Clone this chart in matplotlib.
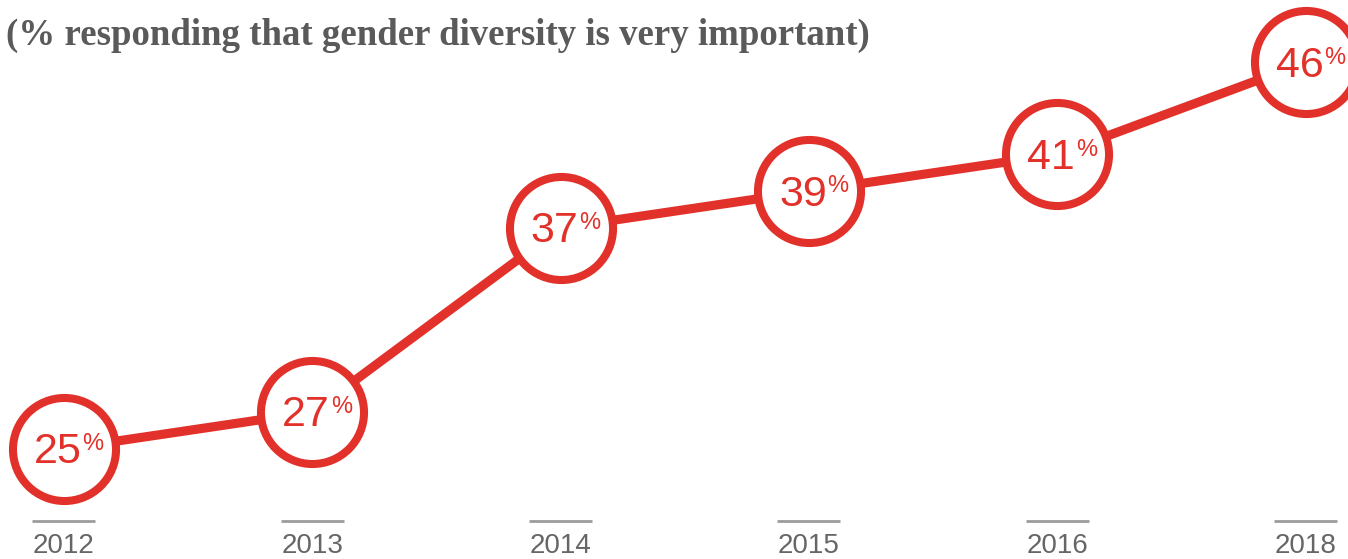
import matplotlib
matplotlib.use("Agg")
import matplotlib.pyplot as plt
import matplotlib.transforms as mtransforms

years = ["2012", "2013", "2014", "2015", "2016", "2018"]
values = [25, 27, 37, 39, 41, 46]
title = "(% responding that gender diversity is very important)"

RED = "#e2312a"
W, H, DPI = 1348, 559, 100

fig = plt.figure(figsize=(W / DPI, H / DPI), dpi=DPI)
ax = fig.add_axes([0, 0, 1, 1])
ax.set_axis_off()

x = list(range(len(years)))
ax.set_xlim(-0.2564, 5.170)
ax.set_ylim(19.02, 49.39)

ax.plot(x, values, color=RED, lw=6.6, solid_capstyle="butt", zorder=2)
ax.plot(x, values, linestyle="none", marker="o", markersize=74.2,
        markerfacecolor="white", markeredgecolor=RED, markeredgewidth=5.8,
        zorder=3)

for xi, v in zip(x, values):
    ax.annotate(f"{v}", (xi, v), xytext=(12.8, -10.3), textcoords="offset points",
                ha="right", va="baseline", fontsize=31, color=RED,
                family="Liberation Sans", zorder=4)
    ax.annotate("%", (xi, v), xytext=(13.4, -0.8), textcoords="offset points",
                ha="left", va="baseline", fontsize=17, color=RED,
                family="Liberation Sans", zorder=4)

trans = mtransforms.blended_transform_factory(ax.transData, ax.transAxes)
for xi, yr in zip(x, years):
    ax.plot([xi - 0.127, xi + 0.127], [1 - 521 / H, 1 - 521 / H],
            color="#9c9c9c", lw=2.0, transform=trans, solid_capstyle="butt")
    ax.text(xi, 1 - 546 / H, yr, transform=trans, ha="center", va="center",
            fontsize=20, color="#666666", family="Liberation Sans")

fig.text(6 / W, 1 - 45 / H, title, ha="left", va="baseline",
         fontsize=26.6, fontweight="bold", color="#5a5a5a",
         family="Liberation Serif")

fig.savefig("out.png", dpi=DPI, facecolor="white")
